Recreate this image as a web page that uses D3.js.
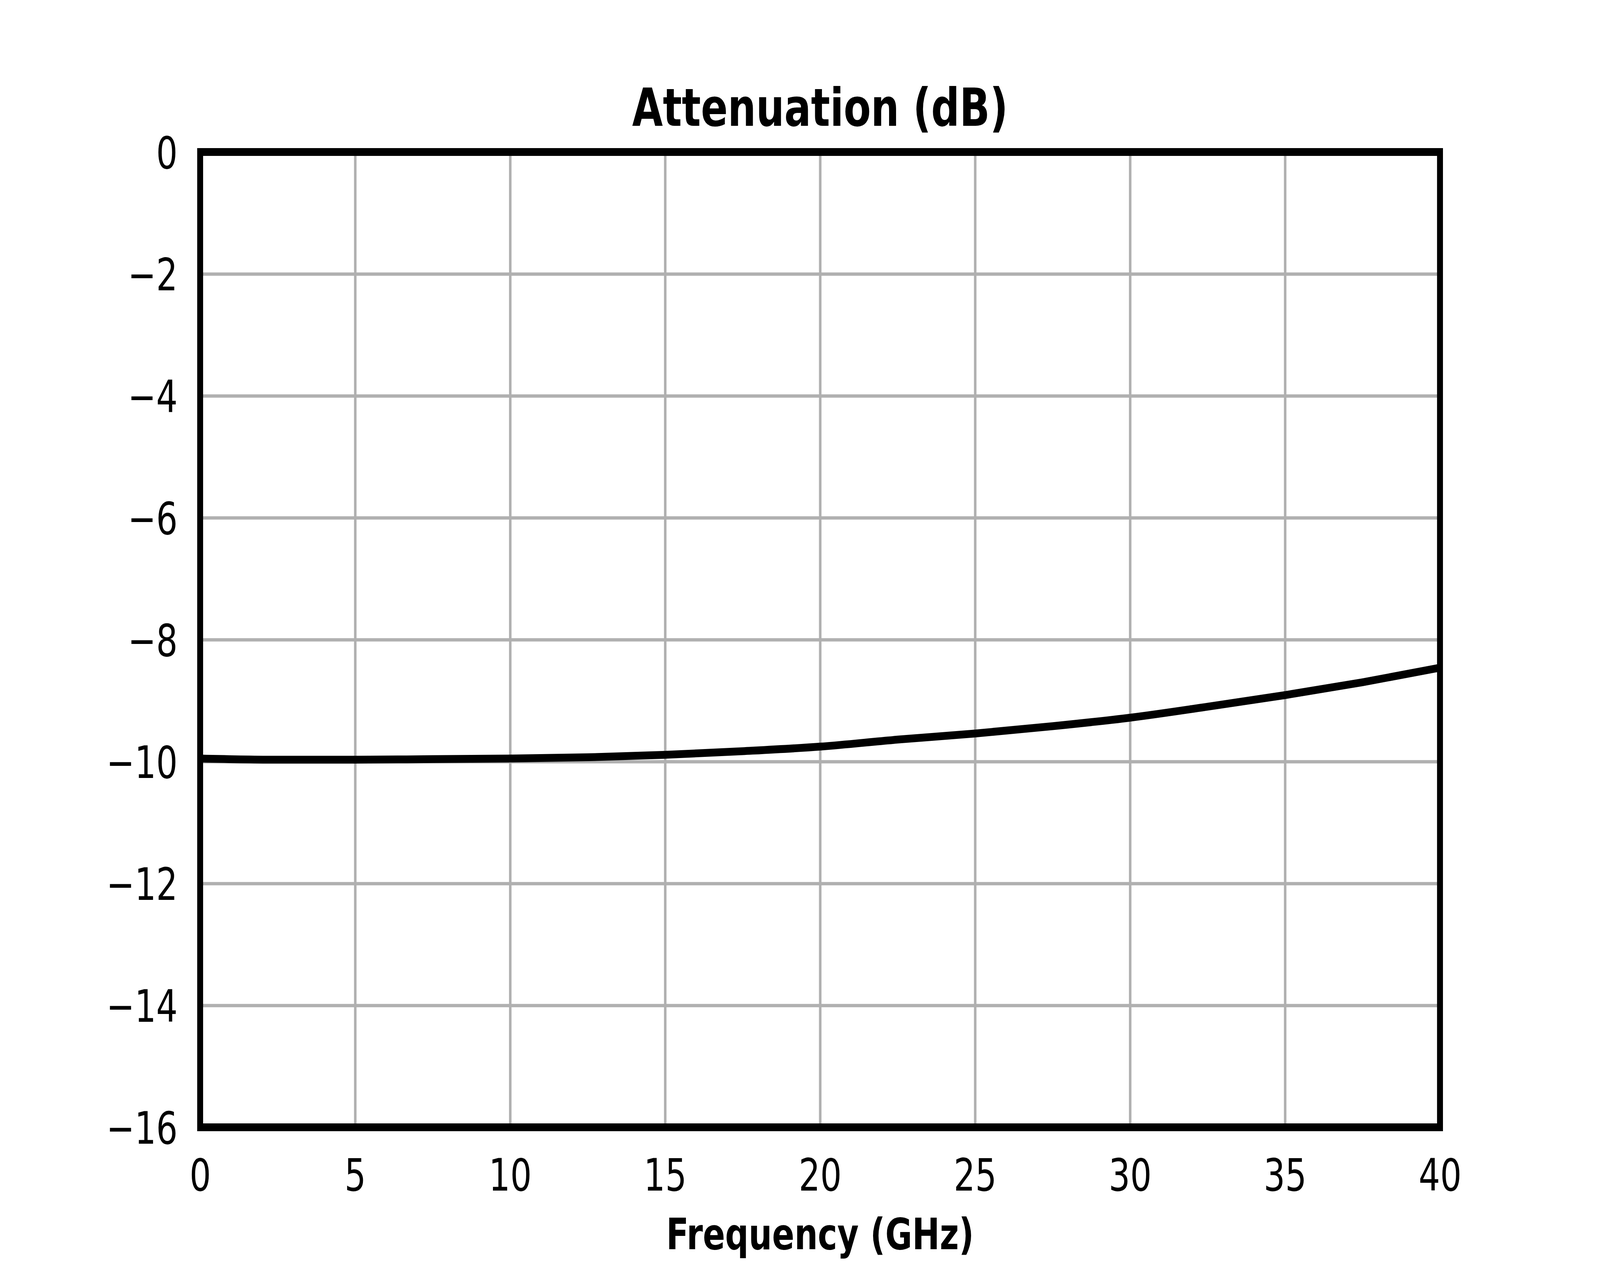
<!DOCTYPE html>
<html>
<head>
<meta charset="utf-8">
<script src="https://cdn.jsdelivr.net/npm/d3@7"></script>
<style>
  html, body { margin: 0; padding: 0; background: #fff; overflow: hidden; }
  #chart-area svg { display: block; width: 100vw; height: 100vh; }
  text { font-family: "DejaVu Sans", sans-serif; fill: #000; }
</style>
</head>
<body>
<div id="chart-area"></div>
<script>
// values
var freqGHz = [0, 2.5, 5, 7.5, 10, 12.5, 15, 17.5, 20, 22.5, 25, 27.5, 30, 32.5, 35, 37.5, 40];
var attenDb = [-9.95, -9.97, -9.97, -9.96, -9.95, -9.93, -9.89, -9.83, -9.755, -9.64, -9.54, -9.42, -9.28, -9.10, -8.91, -8.70, -8.46];
var xTicks = [0, 5, 10, 15, 20, 25, 30, 35, 40];
var yTicks = [0, -2, -4, -6, -8, -10, -12, -14, -16];

var W = 5400, H = 3240;
var margin = { left: 675.5, right: 540, top: 389, bottom: 355 };
var width = W - margin.left - margin.right,
    height = H - margin.top - margin.bottom;

// the window may be narrower than 5400, so draw in a 5400x3240 box
// and let it fill the whole window
var svg = d3.select("#chart-area")
    .append("svg")
        .attr("viewBox", "0 0 " + W + " " + H)
        .attr("preserveAspectRatio", "none");

var g = svg.append("g")
    .attr("transform", "translate(" + margin.left + ", " + margin.top + ")");

var data = freqGHz.map(function(f, i){ return { f: f, a: attenDb[i] }; });

// scales
var x = d3.scaleLinear().domain([0, 40]).range([0, width]);
var y = d3.scaleLinear().domain([-16, 0]).range([height, 0]);

// grid
var xGrid = g.append("g")
    .attr("transform", "translate(0," + height + ")")
    .call(d3.axisBottom(x).tickValues(xTicks).tickSize(-height).tickFormat(""));
var yGrid = g.append("g")
    .call(d3.axisLeft(y).tickValues(yTicks).tickSize(-width).tickFormat(""));
[xGrid, yGrid].forEach(function(s){
    s.select(".domain").remove();
    s.selectAll("line").attr("stroke", "#b0b0b0").attr("stroke-width", 8.5);
});

// tick labels
var xAxis = g.append("g")
    .attr("transform", "translate(0," + height + ")")
    .call(d3.axisBottom(x).tickValues(xTicks).tickSize(0).tickPadding(81));
var yAxis = g.append("g")
    .call(d3.axisLeft(y).tickValues(yTicks).tickSize(0).tickPadding(76));
[xAxis, yAxis].forEach(function(s){
    s.select(".domain").remove();
    s.selectAll("text")
        .attr("font-family", "DejaVu Sans")
        .attr("font-size", "114px")
        .attr("fill", "#000");
});
yAxis.selectAll("text").attr("dy", "0.36em");

// the curve
var line = d3.line()
    .x(function(d){ return x(d.f); })
    .y(function(d){ return y(d.a); })
    .curve(d3.curveMonotoneX);

g.append("path")
    .datum(data)
    .attr("fill", "none")
    .attr("stroke", "#000")
    .attr("stroke-width", 20)
    .attr("stroke-linejoin", "round")
    .attr("d", line);

// frame
g.append("rect")
    .attr("x", 0).attr("y", 0)
    .attr("width", width).attr("height", height)
    .attr("fill", "none")
    .attr("stroke", "#000")
    .attr("stroke-width", 20);

// title
g.append("text")
    .attr("x", width / 2)
    .attr("y", 322 - margin.top)
    .attr("text-anchor", "middle")
    .attr("font-size", "134px")
    .attr("font-weight", "bold")
    .text("Attenuation (dB)");

// X label
g.append("text")
    .attr("x", width / 2)
    .attr("y", 3197 - margin.top)
    .attr("text-anchor", "middle")
    .attr("font-size", "111px")
    .attr("font-weight", "bold")
    .text("Frequency (GHz)");
</script>
</body>
</html>
